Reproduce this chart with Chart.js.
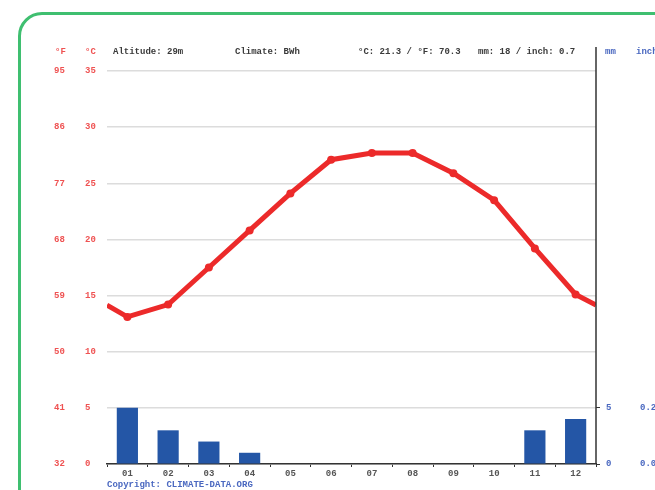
<!DOCTYPE html>
<html>
<head>
<meta charset="utf-8">
<script src="https://cdn.jsdelivr.net/npm/chart.js@4/dist/chart.umd.min.js"></script>
<style>
    html, body { margin: 0; padding: 0; background: #fff; overflow: hidden; }
    #frame {
        position: absolute; left: 18px; top: 12px; width: 720px; height: 560px;
        border: 3px solid #3fbf70; border-radius: 24px; box-sizing: border-box;
    }
    #chart { position: absolute; left: 0; top: 0; }
</style>
</head>
<body>
<div id="frame"></div>
<canvas id="chart" width="655" height="490"></canvas>
<script>
// climate values
const months = ['01', '02', '03', '04', '05', '06', '07', '08', '09', '10', '11', '12'];
const tempC = [13.1, 14.2, 17.5, 20.8, 24.1, 27.1, 27.7, 27.7, 25.9, 23.5, 19.2, 15.1];
const precipMm = [5, 3, 2, 1, 0, 0, 0, 0, 0, 0, 3, 4];
const edgeTempC = [14.15, 14.15]; // where the line meets the left / right edge
const mmTicks = [0, 5];

const RED = '#ef5252';
const BLUE = '#4a68c0';
const MONO = '"Liberation Mono", "DejaVu Sans Mono", monospace';

// line points on a linear x axis so that the ends reach the plot edges
const linePoints = [{ x: 0.5, y: edgeTempC[0] }]
    .concat(tempC.map((t, i) => ({ x: i + 1, y: t })))
    .concat([{ x: 12.5, y: edgeTempC[1] }]);
const pointSizes = linePoints.map((p, i) => (i === 0 || i === linePoints.length - 1) ? 0 : 4);

const headerPlugin = {
    id: 'header',
    afterDraw(chart) {
        const ctx = chart.ctx;
        const area = chart.chartArea;
        const s = chart.scales;
        ctx.save();
        ctx.textBaseline = 'middle';
        ctx.textAlign = 'left';
        ctx.font = 'bold 9px ' + MONO;

        ctx.fillStyle = RED;
        ctx.fillText('°F', s.yF.left + 1, 52);
        ctx.fillText('°C', s.yC.left, 52);

        ctx.fillStyle = '#3a3a3a';
        ctx.fillText('Altitude: 29m', 113, 52);
        ctx.fillText('Climate: BWh', 235, 52);
        ctx.fillText('°C: 21.3 / °F: 70.3', 358, 52);
        ctx.fillText('mm: 18 / inch: 0.7', 478, 52);

        ctx.fillStyle = BLUE;
        ctx.fillText('mm', s.yMM.left + 9, 52);
        ctx.fillText('inch', s.yIn.left - 4, 52);
        ctx.fillText('Copyright: CLIMATE-DATA.ORG', area.left, 485);

        // right axis line runs up past the plot top
        ctx.strokeStyle = '#333';
        ctx.lineWidth = 1.5;
        ctx.beginPath();
        ctx.moveTo(area.right, 47);
        ctx.lineTo(area.right, area.bottom);
        ctx.stroke();
        ctx.restore();
    }
};

const tickFont = { family: MONO, size: 9, weight: 'bold' };

new Chart(document.getElementById('chart'), {
    type: 'bar',
    data: {
        labels: months,
        datasets: [
            {
                type: 'line',
                data: linePoints,
                xAxisID: 'x2',
                yAxisID: 'yC',
                borderColor: '#ec2a2a',
                backgroundColor: '#ec2a2a',
                borderWidth: 5,
                pointRadius: pointSizes,
                pointBorderWidth: 0,
                tension: 0,
                order: 0
            },
            {
                data: precipMm,
                xAxisID: 'x',
                yAxisID: 'yMM',
                backgroundColor: '#2456a6',
                grouped: false,
                categoryPercentage: 1,
                barPercentage: 0.52,
                order: 1
            }
        ]
    },
    options: {
        responsive: false,
        animation: false,
        devicePixelRatio: 1,
        layout: { padding: { left: 54, right: 0, top: 71, bottom: 12 } },
        plugins: { legend: { display: false }, tooltip: { enabled: false } },
        scales: {
            x: {
                type: 'category',
                offset: true,
                grid: { offset: true, drawOnChartArea: false, tickLength: 3, color: '#333', lineWidth: 1 },
                border: { display: true, color: '#333', width: 1.5 },
                ticks: { color: '#555', font: tickFont, padding: 1, maxRotation: 0 },
                afterFit(scale) { scale.height = 14; }
            },
            x2: {
                type: 'linear',
                display: false,
                offset: false,
                min: 0.5,
                max: 12.5
            },
            yF: {
                position: 'left',
                weight: 2,
                min: 32,
                max: 95,
                ticks: { stepSize: 9, color: RED, font: tickFont, crossAlign: 'far', padding: 0 },
                grid: { display: false, drawTicks: false },
                border: { display: false },
                afterFit(scale) { scale.width = 31; }
            },
            yC: {
                position: 'left',
                weight: 1,
                min: 0,
                max: 35,
                ticks: { stepSize: 5, color: RED, font: tickFont, crossAlign: 'far', padding: 0 },
                grid: { color: '#dcdcdc', lineWidth: 1.5, drawTicks: false },
                border: { display: false },
                afterFit(scale) { scale.width = 22; }
            },
            yMM: {
                position: 'right',
                weight: 1,
                min: 0,
                max: 35,
                afterBuildTicks(scale) { scale.ticks = mmTicks.map(v => ({ value: v })); },
                ticks: { color: BLUE, font: tickFont, padding: 6 },
                grid: { drawOnChartArea: false, tickLength: 4, color: '#333' },
                border: { display: false },
                afterFit(scale) { scale.width = 44; }
            },
            yIn: {
                position: 'right',
                weight: 2,
                min: 0,
                max: 35 / 25.4,
                afterBuildTicks(scale) { scale.ticks = mmTicks.map(v => ({ value: v / 25.4 })); },
                ticks: { color: BLUE, font: tickFont, padding: 0, callback: v => v.toFixed(1) },
                grid: { display: false, drawTicks: false },
                border: { display: false },
                afterFit(scale) { scale.width = 15; }
            }
        }
    },
    plugins: [headerPlugin]
});
</script>
</body>
</html>
